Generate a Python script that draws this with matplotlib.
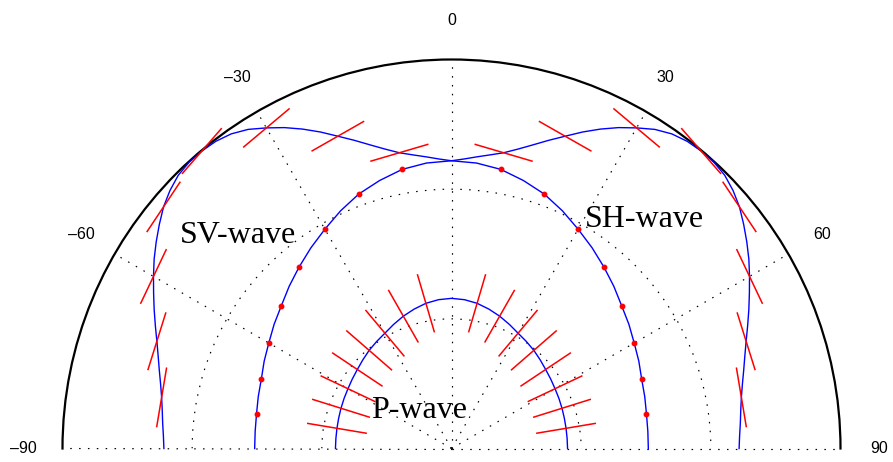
import numpy as np
import matplotlib
matplotlib.use("Agg")
import matplotlib.pyplot as plt

# ---- data (angle in degrees from vertical, clockwise positive) ----
p_theta = [-90, -85, -80, -75, -70, -65, -60, -55, -50, -45, -40, -35, -30, -25, -20, -15, -10, -5,
           0, 5, 10, 15, 20, 25, 30, 35, 40, 45, 50, 55, 60, 65, 70, 75, 80, 85, 90]
p_r = [0.895, 0.895, 0.897, 0.901, 0.907, 0.914, 0.922, 0.934, 0.948, 0.967, 0.988, 1.007, 1.027,
       1.056, 1.086, 1.113, 1.137, 1.152,
       1.158,
       1.152, 1.137, 1.113, 1.086, 1.056, 1.027, 1.007, 0.988, 0.967, 0.948, 0.934, 0.922, 0.914,
       0.907, 0.901, 0.897, 0.895, 0.895]

sh_theta = p_theta
sh_r = [1.518, 1.520, 1.527, 1.543, 1.561, 1.594, 1.627, 1.670, 1.713, 1.770, 1.828, 1.890, 1.953,
        2.023, 2.089, 2.140, 2.186, 2.210,
        2.219,
        2.210, 2.186, 2.140, 2.089, 2.023, 1.953, 1.890, 1.828, 1.770, 1.713, 1.670, 1.627, 1.594,
        1.561, 1.543, 1.527, 1.520, 1.518]

sv_theta = [-90, -87.5, -85, -82.5, -80, -77.5, -75, -72.5, -70, -67.5, -65, -62.5, -60, -57.5,
            -55, -52.5, -50, -47.5, -45, -42.5, -40, -37.5, -35, -32.5, -30, -27.5, -25, -22.5,
            -20, -17.5, -15, -12.5, -10, -7.5, -5, -2.5,
            0,
            2.5, 5, 7.5, 10, 12.5, 15, 17.5, 20, 22.5, 25, 27.5, 30, 32.5, 35, 37.5, 40, 42.5,
            45, 47.5, 50, 52.5, 55, 57.5, 60, 62.5, 65, 67.5, 70, 72.5, 75, 77.5, 80, 82.5, 85,
            87.5, 90]
sv_r = [2.218, 2.224, 2.236, 2.250, 2.270, 2.298, 2.333, 2.372, 2.418, 2.472, 2.530, 2.590,
        2.654, 2.719, 2.780, 2.840, 2.899, 2.945, 2.980, 2.995, 2.995, 2.986, 2.962, 2.918,
        2.855, 2.790, 2.718, 2.642, 2.563, 2.492, 2.424, 2.365, 2.316, 2.284, 2.258, 2.235,
        2.219,
        2.235, 2.258, 2.284, 2.316, 2.365, 2.424, 2.492, 2.563, 2.642, 2.718, 2.790, 2.855,
        2.918, 2.962, 2.986, 2.995, 2.995, 2.980, 2.945, 2.899, 2.840, 2.780, 2.719, 2.654,
        2.590, 2.530, 2.472, 2.418, 2.372, 2.333, 2.298, 2.270, 2.250, 2.236, 2.224, 2.218]

# propagation angles where polarization is drawn, and polarization angle (deg from vertical)
mark_theta = [-80, -70, -60, -50, -40, -30, -20, -10, 10, 20, 30, 40, 50, 60, 70, 80]
pol_angle = [-80.5, -72.6, -64.6, -56.3, -49.0, -40.0, -29.7, -16.4,
             16.4, 29.7, 40.0, 49.0, 56.3, 64.6, 72.6, 80.5]
seg_half = 0.228

grid_angles = [-90, -60, -30, 0, 30, 60, 90]
grid_labels = ["\u201390", "\u201360", "\u201330", "0", "30", "60", "90"]
r_rings = [1, 2]
r_max = 3

wave_labels = ["SV-wave", "SH-wave", "P-wave"]
wave_label_pos = [(-52.9, 2.626), (31.0, 1.995), (-69.4, 0.663)]

# ---- figure ----
W, H = 893, 462
cx, cy_top, R = 451.5, 448.5, 389.0   # pixel centre and radius of the half disk
fig = plt.figure(figsize=(W / 100, H / 100), dpi=100)
# the half-disk polar axes fits its wedge into a square box of side 2R
side = 2 * R
box_left = cx - R
box_bottom = (H - (cy_top - R / 2)) - R   # square centre sits half-way up the half disk
ax = fig.add_axes([box_left / W, box_bottom / H, side / W, side / H], projection="polar")
ax.set_theta_zero_location("N")
ax.set_theta_direction(-1)
ax.set_thetamin(-90)
ax.set_thetamax(90)
ax.set_rlim(0, r_max)

ax.set_thetagrids(grid_angles, labels=[""] * len(grid_angles))
ax.set_rgrids(r_rings, labels=[""] * len(r_rings))
ax.grid(True, color="k", linestyle=(0, (1.3, 6.2)), linewidth=0.85)
for gl in ax.xaxis.get_gridlines():
    gl.set_clip_on(False)
ax.spines["polar"].set_linewidth(1.6)
ax.spines["polar"].set_color("k")
# polar axes re-enables the straight edge spines at draw time, so make them invisible by colour
for s in ("start", "end", "inner"):
    ax.spines[s].set_color("none")
    ax.spines[s].set_linewidth(0)
ax.tick_params(length=0)

for ang, lab in zip(grid_angles, grid_labels):
    ax.text(np.radians(ang), 3.3, lab, ha="center", va="center", fontsize=11.5,
            family="Liberation Sans", clip_on=False)

# curves
for th, rr in ((p_theta, p_r), (sh_theta, sh_r), (sv_theta, sv_r)):
    ax.plot(np.radians(th), rr, color=(0, 0, 1), lw=1.0, zorder=3, clip_on=False,
            solid_joinstyle="round")

# polarization marks
p_lookup = dict(zip(p_theta, p_r))
sv_lookup = dict(zip(sv_theta, sv_r))
sh_lookup = dict(zip(sh_theta, sh_r))


def seg(theta_deg, r, dx, dy):
    t = np.radians(theta_deg)
    x0, y0 = r * np.sin(t), r * np.cos(t)
    xs = np.array([x0 - seg_half * dx, x0 + seg_half * dx])
    ys = np.array([y0 - seg_half * dy, y0 + seg_half * dy])
    return np.arctan2(xs, ys), np.hypot(xs, ys)


for t, phi in zip(mark_theta, pol_angle):
    f = np.radians(phi)
    a, r = seg(t, p_lookup[t], np.sin(f), np.cos(f))
    ax.plot(a, r, color=(1, 0, 0), lw=1.1, zorder=4, clip_on=False)
    a, r = seg(t, sv_lookup[t], np.cos(f), -np.sin(f))
    ax.plot(a, r, color=(1, 0, 0), lw=1.1, zorder=4, clip_on=False)

ax.plot(np.radians(mark_theta), [sh_lookup[t] for t in mark_theta], linestyle="none",
        marker="o", ms=3.2, color=(1, 0, 0), zorder=5, clip_on=False)

for lab, (ang, rr) in zip(wave_labels, wave_label_pos):
    ax.text(np.radians(ang), rr, lab, ha="left", va="baseline", fontsize=23,
            family="Liberation Serif", zorder=6)

fig.savefig("out.png", dpi=100)
